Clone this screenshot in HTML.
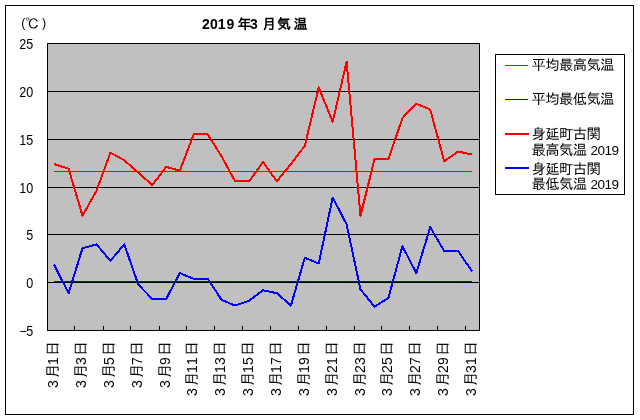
<!DOCTYPE html>
<html lang="ja"><head><meta charset="utf-8"><title>2019年3月気温</title>
<style>
html,body{margin:0;padding:0;background:#fff}
svg{display:block}
text{font-family:"Liberation Sans","IPAGothic",sans-serif;fill:#000}
.t{font-size:14px}
.n{font-size:14px}
.l{font-size:14.4px}
.x{font-size:15px}
.crisp{shape-rendering:crispEdges}
</style></head><body>
<svg width="640" height="420" viewBox="0 0 640 420">
<rect x="0" y="0" width="640" height="420" fill="#fff"/>
<rect class="crisp" x="5.5" y="5.5" width="628" height="409" fill="#fff" stroke="#000" stroke-width="1"/>
<rect class="crisp" x="47.5" y="43.5" width="432" height="287" fill="#c0c0c0" stroke="#000" stroke-width="1"/>
<line class="crisp" x1="47" x2="479" y1="91.5" y2="91.5" stroke="#000" stroke-width="1"/>
<line class="crisp" x1="47" x2="479" y1="139.5" y2="139.5" stroke="#000" stroke-width="1"/>
<line class="crisp" x1="47" x2="479" y1="187.5" y2="187.5" stroke="#000" stroke-width="1"/>
<line class="crisp" x1="47" x2="479" y1="234.5" y2="234.5" stroke="#000" stroke-width="1"/>
<line class="crisp" x1="47" x2="479" y1="282.5" y2="282.5" stroke="#000" stroke-width="1"/>
<line class="crisp" x1="47.5" x2="47.5" y1="326" y2="330" stroke="#000" stroke-width="1"/>
<line class="crisp" x1="74.5" x2="74.5" y1="326" y2="330" stroke="#000" stroke-width="1"/>
<line class="crisp" x1="103.5" x2="103.5" y1="326" y2="330" stroke="#000" stroke-width="1"/>
<line class="crisp" x1="130.5" x2="130.5" y1="326" y2="330" stroke="#000" stroke-width="1"/>
<line class="crisp" x1="159.5" x2="159.5" y1="326" y2="330" stroke="#000" stroke-width="1"/>
<line class="crisp" x1="186.5" x2="186.5" y1="326" y2="330" stroke="#000" stroke-width="1"/>
<line class="crisp" x1="214.5" x2="214.5" y1="326" y2="330" stroke="#000" stroke-width="1"/>
<line class="crisp" x1="242.5" x2="242.5" y1="326" y2="330" stroke="#000" stroke-width="1"/>
<line class="crisp" x1="270.5" x2="270.5" y1="326" y2="330" stroke="#000" stroke-width="1"/>
<line class="crisp" x1="298.5" x2="298.5" y1="326" y2="330" stroke="#000" stroke-width="1"/>
<line class="crisp" x1="326.5" x2="326.5" y1="326" y2="330" stroke="#000" stroke-width="1"/>
<line class="crisp" x1="354.5" x2="354.5" y1="326" y2="330" stroke="#000" stroke-width="1"/>
<line class="crisp" x1="381.5" x2="381.5" y1="326" y2="330" stroke="#000" stroke-width="1"/>
<line class="crisp" x1="409.5" x2="409.5" y1="326" y2="330" stroke="#000" stroke-width="1"/>
<line class="crisp" x1="437.5" x2="437.5" y1="326" y2="330" stroke="#000" stroke-width="1"/>
<line class="crisp" x1="465.5" x2="465.5" y1="326" y2="330" stroke="#000" stroke-width="1"/>
<text class="n" transform="translate(33.2,49) scale(.9,1)" text-anchor="end">25</text>
<text class="n" transform="translate(33.2,97) scale(.9,1)" text-anchor="end">20</text>
<text class="n" transform="translate(33.2,145) scale(.9,1)" text-anchor="end">15</text>
<text class="n" transform="translate(33.2,193) scale(.9,1)" text-anchor="end">10</text>
<text class="n" transform="translate(33.2,240) scale(.9,1)" text-anchor="end">5</text>
<text class="n" transform="translate(33.2,288) scale(.9,1)" text-anchor="end">0</text>
<text class="n" transform="translate(0,336) scale(.9,1)" x="21.6 29.3">−5</text>
<text class="t" x="21.2 25.5 41.9" y="27"><tspan font-size="12.5" dy="-0.3">(</tspan><tspan dy="2.2">℃</tspan><tspan font-size="12.5" dy="-2.2">)</tspan></text>
<text x="202 210 217.7 226.4 237.5 250 262.2 277 293.6" y="29" font-size="14" font-weight="bold">2019年3月気温</text>
<line class="crisp" x1="54.0" x2="472.0" y1="171.5" y2="171.5" stroke="#f00" stroke-width="1"/>
<line class="crisp" x1="54.0" x2="472.0" y1="281.5" y2="281.5" stroke="#00f" stroke-width="1"/>
<polyline class="crisp" points="54.0,164.0 68.6,168.8 82.5,215.7 96.5,190.8 110.4,152.6 124.3,160.2 138.3,172.7 152.2,185.1 166.2,166.9 179.8,170.7 193.7,134.4 207.7,134.4 221.6,156.4 235.1,181.3 249.1,181.3 263.0,162.1 276.9,181.3 290.9,164.0 304.8,145.9 318.7,87.5 332.7,121.9 346.6,61.7 360.5,215.7 374.5,159.3 388.4,159.3 402.4,118.1 416.3,103.8 430.2,109.5 444.2,161.2 458.1,151.6 472.0,154.5" fill="none" stroke="#f00" stroke-width="2" stroke-linejoin="round"/>
<polyline class="crisp" points="54.0,264.5 68.6,293.2 82.5,248.2 96.5,244.4 110.4,260.7 124.3,244.4 138.3,284.6 152.2,298.9 166.2,298.9 179.8,273.1 193.7,278.8 207.7,278.8 221.6,299.9 235.1,305.6 249.1,300.8 263.0,290.3 276.9,293.2 290.9,305.6 304.8,257.8 318.7,263.5 332.7,197.5 346.6,224.3 360.5,289.4 374.5,306.6 388.4,298.0 402.4,246.3 416.3,273.1 430.2,227.2 444.2,251.1 458.1,251.1 472.0,271.2" fill="none" stroke="#00f" stroke-width="2" stroke-linejoin="round"/>
<text class="x" transform="translate(58.0,400) rotate(-90)" x="12.1 21.6 35.1 44" y="0"><tspan class="t">3</tspan>月<tspan class="t">1</tspan>日</text>
<text class="x" transform="translate(85.8,400) rotate(-90)" x="12.1 21.6 35.1 44" y="0"><tspan class="t">3</tspan>月<tspan class="t">3</tspan>日</text>
<text class="x" transform="translate(113.7,400) rotate(-90)" x="12.1 21.6 35.1 44" y="0"><tspan class="t">3</tspan>月<tspan class="t">5</tspan>日</text>
<text class="x" transform="translate(141.6,400) rotate(-90)" x="12.1 21.6 35.1 44" y="0"><tspan class="t">3</tspan>月<tspan class="t">7</tspan>日</text>
<text class="x" transform="translate(169.5,400) rotate(-90)" x="12.1 21.6 35.1 44" y="0"><tspan class="t">3</tspan>月<tspan class="t">9</tspan>日</text>
<text class="x" transform="translate(197.3,400) rotate(-90)" x="4.1 13.6 27.1 35.1 44" y="0"><tspan class="t">3</tspan>月<tspan class="t">11</tspan>日</text>
<text class="x" transform="translate(225.2,400) rotate(-90)" x="4.1 13.6 27.1 35.1 44" y="0"><tspan class="t">3</tspan>月<tspan class="t">13</tspan>日</text>
<text class="x" transform="translate(253.1,400) rotate(-90)" x="4.1 13.6 27.1 35.1 44" y="0"><tspan class="t">3</tspan>月<tspan class="t">15</tspan>日</text>
<text class="x" transform="translate(280.9,400) rotate(-90)" x="4.1 13.6 27.1 35.1 44" y="0"><tspan class="t">3</tspan>月<tspan class="t">17</tspan>日</text>
<text class="x" transform="translate(308.8,400) rotate(-90)" x="4.1 13.6 27.1 35.1 44" y="0"><tspan class="t">3</tspan>月<tspan class="t">19</tspan>日</text>
<text class="x" transform="translate(336.7,400) rotate(-90)" x="4.1 13.6 27.1 35.1 44" y="0"><tspan class="t">3</tspan>月<tspan class="t">21</tspan>日</text>
<text class="x" transform="translate(364.5,400) rotate(-90)" x="4.1 13.6 27.1 35.1 44" y="0"><tspan class="t">3</tspan>月<tspan class="t">23</tspan>日</text>
<text class="x" transform="translate(392.4,400) rotate(-90)" x="4.1 13.6 27.1 35.1 44" y="0"><tspan class="t">3</tspan>月<tspan class="t">25</tspan>日</text>
<text class="x" transform="translate(420.3,400) rotate(-90)" x="4.1 13.6 27.1 35.1 44" y="0"><tspan class="t">3</tspan>月<tspan class="t">27</tspan>日</text>
<text class="x" transform="translate(448.2,400) rotate(-90)" x="4.1 13.6 27.1 35.1 44" y="0"><tspan class="t">3</tspan>月<tspan class="t">29</tspan>日</text>
<text class="x" transform="translate(476.0,400) rotate(-90)" x="4.1 13.6 27.1 35.1 44" y="0"><tspan class="t">3</tspan>月<tspan class="t">31</tspan>日</text>
<rect class="crisp" x="495.5" y="54.5" width="129" height="140" fill="#fff" stroke="#000" stroke-width="1"/>
<line class="crisp" x1="505" x2="528" y1="65.5" y2="65.5" stroke="#f00" stroke-width="1"/>
<line class="crisp" x1="505" x2="528" y1="99.5" y2="99.5" stroke="#00f" stroke-width="1"/>
<line class="crisp" x1="505" x2="529" y1="134" y2="134" stroke="#f00" stroke-width="2"/>
<line class="crisp" x1="505" x2="529" y1="168" y2="168" stroke="#00f" stroke-width="2"/>
<text class="l" x="531.6 545.3 559.0 572.7 586.4 600.1" y="70">平均最高気温</text>
<text class="l" x="531.6 545.3 559.0 572.7 586.4 600.1" y="104">平均最低気温</text>
<text class="l" x="531.6 545.3 559.0 572.7 586.4" y="139">身延町古関</text>
<text class="l" x="531.6 545.3 559.0 572.7 587 590.6 597.6 604.4 611.6" y="155">最高気温 <tspan font-size="13.5">2019</tspan></text>
<text class="l" x="531.6 545.3 559.0 572.7 586.4" y="174">身延町古関</text>
<text class="l" x="531.6 545.3 559.0 572.7 587 590.6 597.6 604.4 611.6" y="189">最低気温 <tspan font-size="13.5">2019</tspan></text>
</svg>
</body></html>
